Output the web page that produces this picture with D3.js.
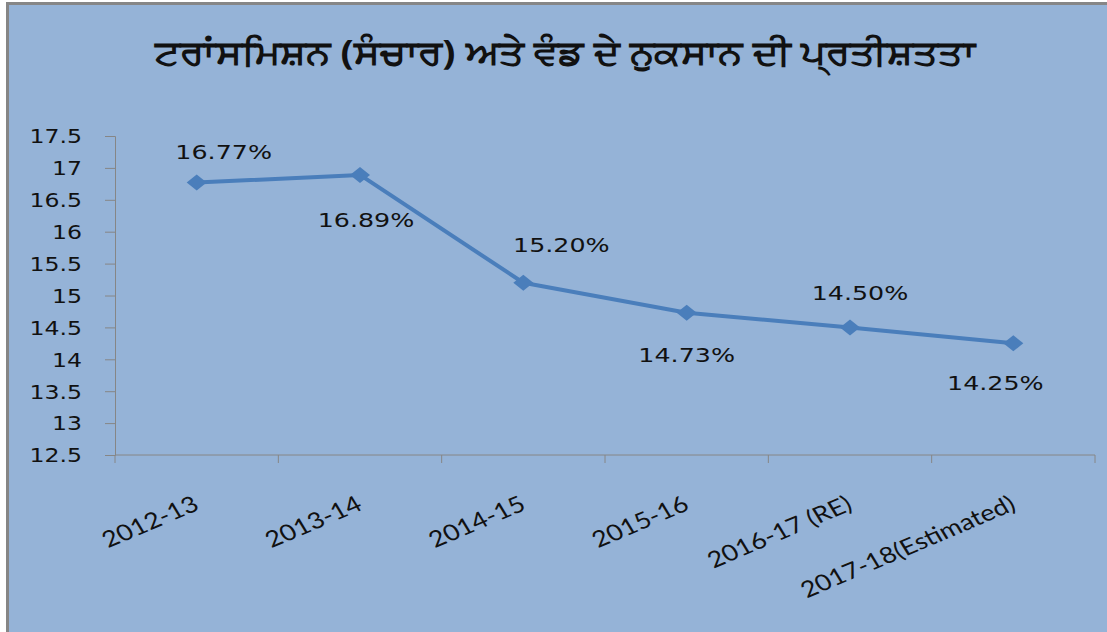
<!DOCTYPE html>
<html>
<head>
<meta charset="utf-8">
<script src="https://cdn.jsdelivr.net/npm/d3@7"></script>
<style>
  html, body { margin: 0; padding: 0; background: #fff; overflow: hidden; }
</style>
</head>
<body>
<svg></svg>
<script>
// chart data
const title = "ਟਰਾਂਸਮਿਸ਼ਨ (ਸੰਚਾਰ) ਅਤੇ ਵੰਡ ਦੇ ਨੁਕਸਾਨ ਦੀ ਪ੍ਰਤੀਸ਼ਤਤਾ";
const years = ["2012-13", "2013-14", "2014-15", "2015-16", "2016-17 (RE)", "2017-18(Estimated)"];
const losses = [16.77, 16.89, 15.20, 14.73, 14.50, 14.25];
const lossLabels = ["16.77%", "16.89%", "15.20%", "14.73%", "14.50%", "14.25%"];
const yTicks = [12.5, 13, 13.5, 14, 14.5, 15, 15.5, 16, 16.5, 17, 17.5];

// where each data label sits relative to its point (layout only)
const labelDx = [27, 6, 38, 0, 10, -18];
const labelDy = [-24, 52, -31, 49, -27, 47];

const width = 1107;
const height = 632;
const margin = {top: 136, right: 12, bottom: 177, left: 115};
const stretch = 1.27;   // the source picture is widened a bit

const svg = d3.select("svg")
    .attr("width", width)
    .attr("height", height);

// chart area with grey frame
svg.append("rect")
    .attr("x", 7.5).attr("y", 3.5)
    .attr("width", width + 20).attr("height", height + 20)
    .attr("fill", "#95b3d7")
    .attr("stroke", "#868686")
    .attr("stroke-width", 3);

const x = d3.scaleBand()
    .domain(years)
    .range([margin.left, width - margin.right]);

const y = d3.scaleLinear()
    .domain([12.5, 17.5])
    .range([height - margin.bottom, margin.top]);

const axisColor = "#868686";

// y axis
const yAxis = svg.append("g")
    .attr("transform", "translate(" + margin.left + ",0)")
    .call(d3.axisLeft(y).tickValues(yTicks).tickSize(10).tickFormat(d => d));
yAxis.select(".domain").attr("stroke", axisColor);
yAxis.selectAll(".tick line").attr("stroke", axisColor);
yAxis.selectAll(".tick text")
    .attr("x", null).attr("dy", null)
    .attr("text-anchor", "end")
    .attr("dominant-baseline", "central")
    .attr("font-family", "DejaVu Sans")
    .attr("font-size", 20)
    .attr("fill", "#111")
    .attr("transform", "translate(-33,0) scale(1.18,1)");

// x axis, ticks on band edges
const edges = years.map(d => x(d)).concat([x.range()[1]]);
const xg = svg.append("g");
xg.append("line")
    .attr("x1", x.range()[0]).attr("x2", x.range()[1])
    .attr("y1", y(12.5)).attr("y2", y(12.5))
    .attr("stroke", axisColor);
xg.selectAll(".edge").data(edges)
    .enter().append("line")
        .attr("class", "edge")
        .attr("x1", d => d).attr("x2", d => d)
        .attr("y1", y(12.5)).attr("y2", y(12.5) + 8)
        .attr("stroke", axisColor);

xg.selectAll(".xlabel").data(years)
    .enter().append("text")
        .attr("class", "xlabel")
        .attr("text-anchor", "end")
        .attr("font-family", "Lato")
        .attr("font-size", 22.5)
        .attr("fill", "#111")
        .attr("transform", d => "translate(" + (x(d) + x.bandwidth() / 2 + 4) + "," + (y(12.5) + 54) + ") scale(1.2,1) rotate(-27)")
        .text(d => d);

// line + diamonds
const pts = years.map((d, i) => ({year: d, value: losses[i], label: lossLabels[i], i: i}));
const line = d3.line()
    .x(d => x(d.year) + x.bandwidth() / 2)
    .y(d => y(d.value));

svg.append("path")
    .datum(pts)
    .attr("d", line)
    .attr("fill", "none")
    .attr("stroke", "#4a7ebb")
    .attr("stroke-width", 4)
    .attr("stroke-linejoin", "round");

svg.selectAll(".marker").data(pts)
    .enter().append("path")
        .attr("class", "marker")
        .attr("transform", d => "translate(" + (x(d.year) + x.bandwidth() / 2) + "," + y(d.value) + ")")
        .attr("d", "M-10,0L0,-8L10,0L0,8Z")
        .attr("fill", "#4a7ebb");

svg.selectAll(".dlabel").data(pts)
    .enter().append("text")
        .attr("class", "dlabel")
        .attr("text-anchor", "middle")
        .attr("font-family", "DejaVu Sans")
        .attr("font-size", 19.5)
        .attr("fill", "#111")
        .attr("transform", d => "translate(" + (x(d.year) + x.bandwidth() / 2 + labelDx[d.i]) + "," + (y(d.value) + labelDy[d.i]) + ") scale(1.3,1)")
        .text(d => d.label);

// title
svg.append("text")
    .attr("x", 565)
    .attr("y", 64)
    .attr("text-anchor", "middle")
    .attr("font-family", "Noto Sans, DejaVu Sans, sans-serif")
    .attr("font-weight", "bold")
    .attr("font-size", 34)
    .attr("textLength", 820)
    .attr("lengthAdjust", "spacingAndGlyphs")
    .attr("fill", "#111")
    .text(title);
</script>
</body>
</html>
